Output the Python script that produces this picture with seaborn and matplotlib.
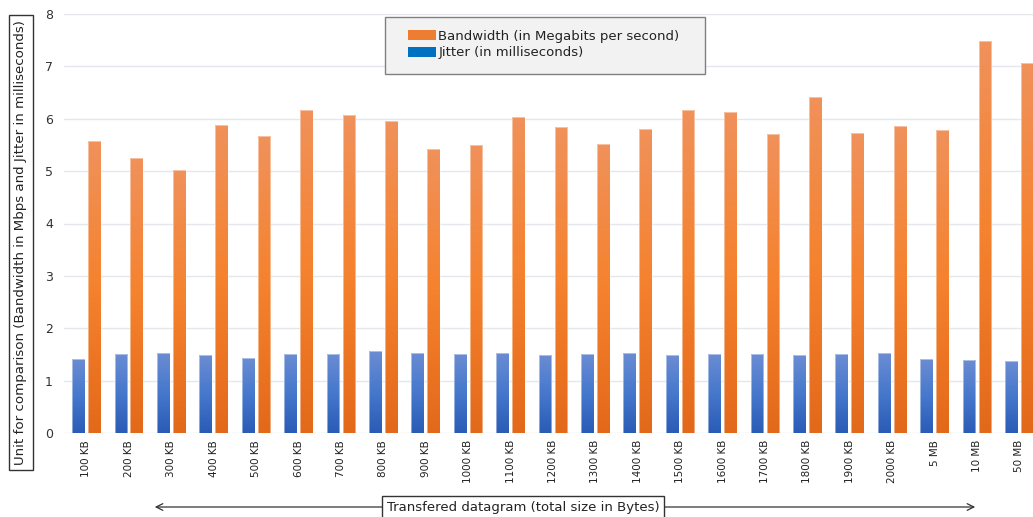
import numpy as np
import pandas as pd
import matplotlib
matplotlib.use("Agg")
import matplotlib.pyplot as plt
import seaborn as sns
from matplotlib.colors import LinearSegmentedColormap
from matplotlib.patches import Patch, Rectangle

# Transferred datagram sizes
sizes = ["100 KB", "200 KB", "300 KB", "400 KB", "500 KB", "600 KB", "700 KB",
         "800 KB", "900 KB", "1000 KB", "1100 KB", "1200 KB", "1300 KB",
         "1400 KB", "1500 KB", "1600 KB", "1700 KB", "1800 KB", "1900 KB",
         "2000 KB", "5 MB", "10 MB", "50 MB"]

# Measured bandwidth (Mbps)
bandwidth = [5.57, 5.25, 5.03, 5.89, 5.67, 6.16, 6.07, 5.95, 5.43, 5.50, 6.04,
             5.84, 5.52, 5.80, 6.16, 6.13, 5.71, 6.41, 5.72, 5.87, 5.79, 7.48, 7.06]

# Measured jitter (ms)
jitter = [1.41, 1.51, 1.53, 1.48, 1.43, 1.51, 1.51, 1.56, 1.53, 1.51, 1.53,
          1.49, 1.51, 1.53, 1.48, 1.51, 1.50, 1.48, 1.50, 1.52, 1.41, 1.39, 1.38]

bw_name = "Bandwidth (in Megabits per second)"
jit_name = "Jitter (in milliseconds)"

y_ticks = [0, 1, 2, 3, 4, 5, 6, 7, 8]

df = pd.DataFrame({
    "size": sizes * 2,
    "metric": [jit_name] * len(sizes) + [bw_name] * len(sizes),
    "value": jitter + bandwidth,
})

BLUE = "#0070C0"
ORANGE = "#ED7D31"

sns.set_theme(style="white")
plt.rcParams["font.family"] = ["DejaVu Sans"]

W, H = 1033, 517
fig = plt.figure(figsize=(W / 100, H / 100), dpi=100)
ax = fig.add_axes([64 / W, 84 / H, (W - 64) / W, 419 / H])

sns.barplot(data=df, x="size", y="value", hue="metric",
            hue_order=[jit_name, bw_name], palette=[BLUE, ORANGE],
            saturation=1, width=0.75, gap=0.2, legend=False, ax=ax)

# Vertical gradient fill for each bar, clipped to the bar's own rectangle
blue_cmap = LinearSegmentedColormap.from_list("blue_grad", ["#2A5BB6", "#4678CC", "#6C8DD3"])
orange_cmap = LinearSegmentedColormap.from_list("orange_grad", ["#E3691A", "#F5822E", "#F0925C"])
grad = np.linspace(0, 1, 256).reshape(-1, 1)
blue_rgb = np.array(matplotlib.colors.to_rgb(BLUE))
orange_rgb = np.array(matplotlib.colors.to_rgb(ORANGE))
for p in list(ax.patches):
    x0, y0 = p.get_x(), p.get_y()
    w, h = p.get_width(), p.get_height()
    fc = np.array(p.get_facecolor()[:3])
    is_blue = np.linalg.norm(fc - blue_rgb) < np.linalg.norm(fc - orange_rgb)
    cmap = blue_cmap if is_blue else orange_cmap
    im = ax.imshow(grad, extent=[x0, x0 + w, y0, y0 + h * 1.01], origin="lower",
                   aspect="auto", cmap=cmap, interpolation="bilinear",
                   zorder=p.get_zorder() + 0.1)
    im.set_clip_path(p)
    p.set_facecolor("none")
    p.set_edgecolor((1, 1, 1, 0.45))
    p.set_linewidth(0.7)
    p.set_zorder(p.get_zorder() + 0.2)

# 23 categories spaced ~42.4 px apart, the last group touching the right edge
ax.set_xlim(-0.53, 22.32)
ax.set_ylim(0, 8)
ax.set_yticks(y_ticks)
ax.set_xlabel("")
ax.set_ylabel("")
ax.yaxis.grid(True, color="#E4E7EC", linewidth=1.0)
ax.set_axisbelow(True)
for s in ax.spines.values():
    s.set_visible(False)
ax.tick_params(axis="x", labelrotation=90, labelsize=7.5, length=0, pad=5, colors="#222222")
ax.tick_params(axis="y", labelsize=9, length=0, pad=8, colors="#333333")

# Legend: grey panel with the two entries inside it
fig.patches.append(Rectangle((385 / W, 1 - 74 / H), 320 / W, 57 / H,
                             transform=fig.transFigure, facecolor="#F2F2F2",
                             edgecolor="#808080", linewidth=1.0, zorder=2))
handles = [Patch(facecolor=ORANGE, edgecolor="none", label=bw_name),
           Patch(facecolor=BLUE, edgecolor="none", label=jit_name)]
leg = fig.legend(handles=handles, loc="upper left",
                 bbox_to_anchor=(408 / W, 1 - 30 / H), frameon=False,
                 fontsize=9.5, handlelength=2.1, handleheight=0.8,
                 handletextpad=0.2, borderpad=0, borderaxespad=0,
                 labelspacing=0.25)
leg.set_zorder(3)
for t in leg.get_texts():
    t.set_color("#222222")

# Boxed y-axis title
fig.text(21 / W, 1 - 242.5 / H,
         "Unit for comparison (Bandwidth in Mbps and Jitter in milliseconds)",
         rotation=90, ha="center", va="center", fontsize=9.6, color="#222222",
         bbox=dict(boxstyle="square,pad=0.4", fc="white", ec="#333333", lw=1))

# Double-headed arrow with boxed x-axis title
y_arrow = 1 - 507 / H
ax.annotate("", xy=(978 / W, y_arrow), xytext=(152 / W, y_arrow),
            xycoords="figure fraction", textcoords="figure fraction",
            annotation_clip=False,
            arrowprops=dict(arrowstyle="<->", color="#333333", lw=0.9,
                            mutation_scale=12))
fig.text(523 / W, y_arrow, "Transfered datagram (total size in Bytes)",
         ha="center", va="center", fontsize=9.5, color="#222222",
         bbox=dict(boxstyle="square,pad=0.35", fc="white", ec="#333333", lw=1))

fig.savefig("out.png", dpi=100)
